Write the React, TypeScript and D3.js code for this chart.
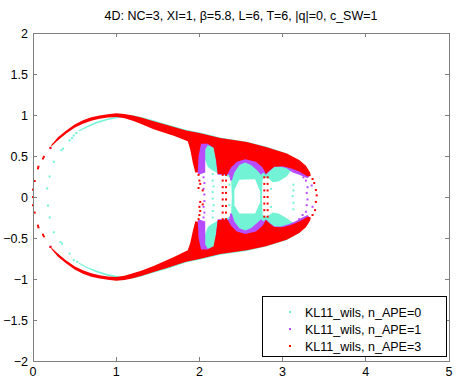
import * as d3 from "d3";

// Matlab-like eigenvalue scatter: Re on x, Im on y
const W = 458;
const H = 379;
const MARGIN = { top: 33, right: 9, bottom: 18, left: 33 };

const TITLE = "4D: NC=3, XI=1, β=5.8, L=6, T=6, |q|=0, c_SW=1";
const xTicks = [0, 1, 2, 3, 4, 5];
const yTicks = [-2, -1.5, -1, -0.5, 0, 0.5, 1, 1.5, 2];
const seriesNames = ["KL11_wils, n_APE=0", "KL11_wils, n_APE=1", "KL11_wils, n_APE=3"];
const seriesColors = ["#72f3d6", "#b84cff", "#ff0000"];

type P = [number, number];

// ---- n_APE=0 (cyan) dense regions: outer edge L->R, inner edge R->L
const cyanUpperOuter: P[] = [[0.55,0.815],[0.65,0.865],[0.77,0.92],[0.89,0.955],[1.05,0.99],[1.2,0.998],[1.3,0.975],[1.45,0.935],[1.6,0.89],[1.84,0.82],[2.0,0.79],[2.25,0.725],[2.57,0.675],[2.8,0.615],[3.05,0.53],[3.2,0.44],[3.3,0.32]];
const cyanUpperInner: P[] = [[3.31,0.27],[3.2,0.31],[3.1,0.32],[3.05,0.25],[2.95,0.19],[2.88,0.18],[2.84,0.22],[2.8,0.24],[2.76,0.22],[2.75,0],[2.73,0],[2.73,0.065],[2.67,0.215],[2.48,0.21],[2.42,0.085],[2.42,0],[2.39,0],[2.38,0.23],[2.34,0.25],[2.22,0.29],[2.15,0.33],[2.1,0.37],[2.07,0.45],[2.03,0.6],[1.95,0.7],[1.84,0.78],[1.6,0.84],[1.45,0.88],[1.2,0.955],[1.05,0.97],[0.89,0.935],[0.77,0.9],[0.65,0.848],[0.55,0.8]];
const cyanLowerOuter: P[] = [[0.55,-0.815],[0.65,-0.87],[0.77,-0.92],[0.89,-0.96],[1.05,-0.99],[1.2,-0.995],[1.3,-0.97],[1.45,-0.925],[1.6,-0.88],[1.84,-0.8],[2.0,-0.765],[2.25,-0.705],[2.57,-0.66],[2.8,-0.605],[3.05,-0.525],[3.2,-0.44],[3.3,-0.32]];
const cyanLowerInner: P[] = [[3.31,-0.27],[3.2,-0.31],[3.12,-0.31],[3.05,-0.26],[2.95,-0.2],[2.88,-0.19],[2.84,-0.22],[2.8,-0.24],[2.76,-0.22],[2.75,0],[2.73,0],[2.73,-0.065],[2.67,-0.2],[2.48,-0.2],[2.42,-0.1],[2.42,0],[2.39,0],[2.38,-0.23],[2.34,-0.25],[2.22,-0.29],[2.15,-0.33],[2.1,-0.37],[2.07,-0.45],[2.03,-0.6],[1.95,-0.68],[1.84,-0.76],[1.6,-0.83],[1.45,-0.875],[1.2,-0.95],[1.05,-0.97],[0.89,-0.94],[0.77,-0.9],[0.65,-0.853],[0.55,-0.8]];
const cyanPoints: P[] = [[0.17,0.105],[0.2,0.25],[0.25,0.43],[0.34,0.57],[0.36,0.59],[0.44,0.69],[0.47,0.72],[0.49,0.75],[0.52,0.78],
  [0.18,-0.105],[0.2,-0.25],[0.25,-0.43],[0.33,-0.55],[0.35,-0.57],[0.44,-0.69],[0.49,-0.77],[0.53,-0.79],
  [2.16,0.28],[2.16,0.2],[2.17,0.13],[2.16,0.06],[2.16,-0.02],[2.17,-0.1],[2.16,-0.17],[2.16,-0.25],
  [3.13,0.15],[3.13,0.08],[3.12,0.01],[3.13,-0.07],[3.13,-0.15],[2.36,0.15],[2.36,-0.1],[2.86,0.1],[2.86,-0.12]];

// ---- n_APE=1 (purple)
const purpleUpperOuter: P[] = [[1.88,0.68],[2.0,0.74],[2.3,0.69],[2.57,0.64],[2.8,0.59],[3.05,0.51],[3.2,0.43],[3.3,0.33],[3.33,0.26]];
const purpleUpperInner: P[] = [[3.3,0.23],[3.2,0.27],[3.12,0.3],[3.05,0.35],[2.98,0.37],[2.9,0.37],[2.84,0.31],[2.8,0.27],[2.77,0.3],[2.74,0.27],[2.7,0.32],[2.62,0.39],[2.55,0.42],[2.48,0.39],[2.42,0.3],[2.39,0.2],[2.37,0.2],[2.36,0.27],[2.22,0.27],[2.2,0.45],[2.18,0.6],[2.1,0.63],[2.07,0.58],[2.07,0.3],[1.99,0.27],[1.96,0.35],[1.92,0.5],[1.88,0.66]];
const purpleLowerOuter: P[] = [[1.88,-0.66],[2.0,-0.72],[2.3,-0.67],[2.57,-0.63],[2.8,-0.58],[3.05,-0.5],[3.2,-0.42],[3.3,-0.33],[3.33,-0.26]];
const purpleLowerInner: P[] = [[3.3,-0.22],[3.22,-0.26],[3.15,-0.3],[3.08,-0.33],[2.98,-0.36],[2.9,-0.36],[2.84,-0.31],[2.8,-0.27],[2.77,-0.3],[2.74,-0.27],[2.7,-0.31],[2.62,-0.38],[2.55,-0.41],[2.48,-0.38],[2.42,-0.3],[2.39,-0.2],[2.37,-0.2],[2.36,-0.27],[2.22,-0.27],[2.2,-0.45],[2.18,-0.6],[2.1,-0.63],[2.07,-0.58],[2.07,-0.3],[1.99,-0.27],[1.96,-0.35],[1.92,-0.5],[1.88,-0.64]];
const purplePoints: P[] = [[0.21,0.595],[0.3,0.705],[0.21,-0.605],[0.3,-0.705],[0.0,0.0],
  [2.05,0.24],[2.06,0.17],[2.05,0.1],[2.06,0.03],[2.06,-0.05],[2.05,-0.12],[2.06,-0.19],[2.05,-0.25],
  [3.28,0.2],[3.3,0.12],[3.29,0.05],[3.3,-0.03],[3.29,-0.1],[3.28,-0.18],[3.22,0.28],[3.25,0.24],
  [3.2,-0.27],[3.24,-0.22],[3.26,-0.3],[3.15,-0.33],[3.35,0.14],[3.36,-0.12]];

// ---- n_APE=3 (red)
const redUpperOuter: P[] = [[0.22,0.635],[0.3,0.73],[0.4,0.81],[0.5,0.885],[0.6,0.935],[0.7,0.972],[0.8,0.995],[0.9,1.01],[1.0,1.02],[1.1,1.012],[1.2,0.995],[1.3,0.968],[1.45,0.925],[1.6,0.88],[1.84,0.81],[2.0,0.78],[2.25,0.72],[2.57,0.67],[2.8,0.61],[3.05,0.53],[3.2,0.45],[3.28,0.38],[3.33,0.3],[3.34,0.26]];
const redUpperInner: P[] = [[3.3,0.25],[3.2,0.31],[3.1,0.35],[3.0,0.375],[2.9,0.37],[2.84,0.32],[2.8,0.28],[2.76,0.36],[2.68,0.43],[2.55,0.46],[2.45,0.43],[2.38,0.36],[2.34,0.28],[2.22,0.28],[2.2,0.45],[2.17,0.6],[2.1,0.65],[2.02,0.65],[1.99,0.5],[1.98,0.3],[1.95,0.3],[1.92,0.42],[1.89,0.58],[1.86,0.68],[1.7,0.745],[1.45,0.825],[1.3,0.89],[1.2,0.93],[1.1,0.96],[1.0,0.975],[0.9,0.97],[0.8,0.953],[0.7,0.93],[0.6,0.893],[0.5,0.843],[0.4,0.773],[0.3,0.693],[0.22,0.615]];
const redLowerOuter: P[] = [[0.22,-0.635],[0.3,-0.73],[0.4,-0.81],[0.5,-0.885],[0.6,-0.935],[0.7,-0.972],[0.8,-0.995],[0.9,-1.01],[1.0,-1.02],[1.1,-1.012],[1.2,-0.99],[1.3,-0.963],[1.45,-0.915],[1.6,-0.87],[1.84,-0.79],[2.0,-0.755],[2.25,-0.695],[2.57,-0.65],[2.8,-0.6],[3.05,-0.52],[3.2,-0.44],[3.28,-0.37],[3.33,-0.29],[3.34,-0.25]];
const redLowerInner: P[] = [[3.3,-0.24],[3.2,-0.3],[3.1,-0.34],[3.0,-0.37],[2.9,-0.365],[2.84,-0.32],[2.8,-0.28],[2.76,-0.35],[2.68,-0.42],[2.55,-0.45],[2.45,-0.42],[2.38,-0.35],[2.34,-0.28],[2.22,-0.28],[2.2,-0.45],[2.17,-0.6],[2.1,-0.64],[2.02,-0.64],[1.99,-0.5],[1.98,-0.3],[1.95,-0.3],[1.92,-0.42],[1.89,-0.56],[1.86,-0.65],[1.7,-0.73],[1.45,-0.84],[1.3,-0.9],[1.2,-0.93],[1.1,-0.96],[1.0,-0.975],[0.9,-0.97],[0.8,-0.953],[0.7,-0.93],[0.6,-0.893],[0.5,-0.843],[0.4,-0.773],[0.3,-0.693],[0.22,-0.615]];
const redPoints: P[] = [[0.0,0.09],[0.02,0.195],[0.06,0.35],[0.065,0.37],[0.12,0.47],[0.13,0.49],[0.21,0.6],[0.0,0.0],
  [0.0,-0.1],[0.02,-0.19],[0.06,-0.35],[0.065,-0.37],[0.12,-0.46],[0.13,-0.48],[0.21,-0.61],
  [1.99,0.27],[2.0,0.2],[2.01,0.16],[1.99,0.11],[2.04,0.08],[2.01,-0.06],[2.04,-0.09],[2.0,-0.12],[2.01,-0.17],[2.0,-0.22],[1.99,-0.27],
  [2.28,0.27],[2.32,0.27],[2.28,0.2],[2.32,0.2],[2.28,0.12],[2.32,0.12],[2.28,0.05],[2.32,0.05],[2.28,-0.03],[2.32,-0.03],[2.28,-0.11],[2.32,-0.11],[2.28,-0.19],[2.32,-0.19],[2.28,-0.27],[2.32,-0.27],
  [2.78,0.24],[2.82,0.24],[2.78,0.16],[2.82,0.16],[2.78,0.08],[2.82,0.08],[2.78,0.0],[2.82,0.0],[2.78,-0.08],[2.82,-0.08],[2.78,-0.16],[2.82,-0.16],[2.78,-0.24],[2.82,-0.24],
  [3.38,0.17],[3.4,0.085],[3.41,0.02],[3.4,-0.06],[3.39,-0.16],[3.36,0.22],[3.36,-0.22]];

const layers = [
  { lobes: [[cyanUpperOuter, cyanUpperInner], [cyanLowerOuter, cyanLowerInner]], points: cyanPoints },
  { lobes: [[purpleUpperOuter, purpleUpperInner], [purpleLowerOuter, purpleLowerInner]], points: purplePoints },
  { lobes: [[redUpperOuter, redUpperInner], [redLowerOuter, redLowerInner]], points: redPoints },
];

const App = () => {
  const x = d3.scaleLinear().domain([0, 5]).range([MARGIN.left, W - MARGIN.right]);
  const y = d3.scaleLinear().domain([-2, 2]).range([H - MARGIN.bottom, MARGIN.top]);
  const line = d3.line<P>().x((d) => x(d[0])).y((d) => y(d[1]));
  const font = "'Liberation Sans', Arial, Helvetica, sans-serif";
  const axisColor = "#7f7f7f";
  const x0 = x(0), x1 = x(5), y0 = y(-2), y1 = y(2);
  const tickLen = 4;

  const legendX = 262, legendY = 296, legendW = 184, legendH = 60;

  return (
    <svg width={W} height={H} style={{ position: "absolute", left: 0, top: 0, background: "#fff" }} fontFamily={font}>
      <rect width={W} height={H} fill="#fff" />
      <text x={(x0 + x1) / 2} y={19.5} textAnchor="middle" fontSize={12.5} fill="#000">{TITLE}</text>

      {layers.map((layer, i) => (
        <g key={i} fill={seriesColors[i]}>
          {layer.lobes.map(([outer, inner], j) => (
            <path key={j} d={line(outer.concat(inner)) + "Z"} stroke="none" />
          ))}
          {layer.points.map((p, k) => (
            <rect key={k} x={x(p[0]) - 1} y={y(p[1]) - 1} width={2} height={2} />
          ))}
        </g>
      ))}

      {/* box */}
      <rect x={x0} y={y1} width={x1 - x0} height={y0 - y1} fill="none" stroke={axisColor} strokeWidth={1} shapeRendering="crispEdges" />
      {xTicks.map((t) => (
        <g key={"x" + t} shapeRendering="crispEdges">
          <line x1={x(t)} x2={x(t)} y1={y0} y2={y0 - tickLen} stroke={axisColor} />
          <line x1={x(t)} x2={x(t)} y1={y1} y2={y1 + tickLen} stroke={axisColor} />
          <text x={x(t)} y={y0 + 15} textAnchor="middle" fontSize={12.5} fill="#000">{t}</text>
        </g>
      ))}
      {yTicks.map((t) => (
        <g key={"y" + t} shapeRendering="crispEdges">
          <line x1={x0} x2={x0 + tickLen} y1={y(t)} y2={y(t)} stroke={axisColor} />
          <line x1={x1} x2={x1 - tickLen} y1={y(t)} y2={y(t)} stroke={axisColor} />
          <text x={x0 - 5} y={y(t) + 4.5} textAnchor="end" fontSize={12.5} fill="#000">{t < 0 ? "\u2212" + Math.abs(t) : t}</text>
        </g>
      ))}

      {/* legend */}
      <rect x={legendX} y={legendY} width={legendW} height={legendH} fill="#fff" stroke="#000" strokeWidth={1} shapeRendering="crispEdges" />
      {seriesNames.map((name, i) => (
        <g key={name}>
          <rect x={legendX + 27} y={legendY + 15 + i * 17} width={2} height={2} fill={seriesColors[i]} />
          <text x={legendX + 43} y={legendY + 20.5 + i * 17} fontSize={12.5} fill="#000">{name}</text>
        </g>
      ))}
    </svg>
  );
};

export default App;
